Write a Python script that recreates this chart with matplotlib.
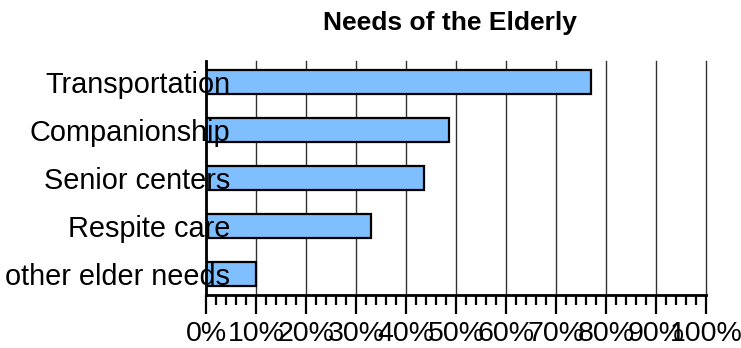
import matplotlib
matplotlib.use("Agg")
import matplotlib.pyplot as plt
from matplotlib.ticker import MultipleLocator, FuncFormatter

categories = ["Transportation", "Companionship", "Senior centers", "Respite care", "other elder needs"]
values = [77, 48.5, 43.5, 33, 10]
xticks = [0, 10, 20, 30, 40, 50, 60, 70, 80, 90, 100]
title = "Needs of the Elderly"

plt.rcParams['font.family'] = ['Liberation Sans', 'DejaVu Sans']

fig = plt.figure(figsize=(7.41, 3.48), dpi=100)
ax = fig.add_axes([206/741, 1-295/348, 500/741, 234/348])

ypos = list(range(len(categories)))
ax.barh(ypos, values, height=0.49, color='#80BFFF', edgecolor='black', linewidth=1.6, zorder=3)

ax.set_xlim(0, 100)
ax.set_ylim(4.4375, -0.4375)
ax.set_xticks(xticks)
ax.xaxis.set_major_formatter(FuncFormatter(lambda v, p: f"{int(round(v))}%"))
ax.xaxis.set_minor_locator(MultipleLocator(2))
ax.grid(axis='x', which='major', color='#333333', linewidth=1.0)
for gl in ax.get_xgridlines():
    gl.set_clip_on(False)
ax.set_axisbelow(True)
ax.yaxis.set_zorder(5)

ax.set_yticks(ypos)
ax.set_yticklabels(categories)
ax.tick_params(axis='y', length=0, pad=-17.5, labelsize=20.8)
ax.tick_params(axis='x', which='major', length=14, width=1.6, pad=5, labelsize=20.5, direction='out')
ax.tick_params(axis='x', which='minor', length=7, width=1.6, direction='out')

for s in ['top', 'right']:
    ax.spines[s].set_visible(False)
ax.spines['left'].set_linewidth(2)
ax.spines['bottom'].set_linewidth(2)
ax.spines['left'].set_zorder(4)

fig.text(450/741, 1-23/348, title, ha='center', va='center', fontsize=19, fontweight='bold')

fig.savefig("out.png", dpi=100)
